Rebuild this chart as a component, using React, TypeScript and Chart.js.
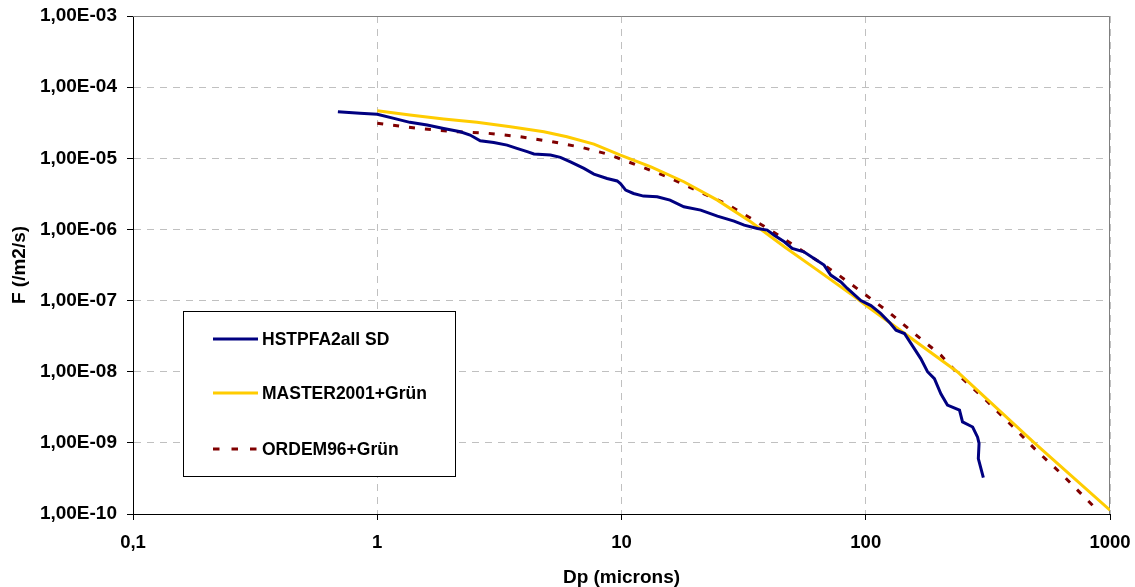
import React, { useEffect, useRef } from "react";
import { Chart, registerables } from "chart.js";

Chart.register(...registerables);

// ---- data ----
const seriesNames = ["HSTPFA2all SD", "MASTER2001+Grün", "ORDEM96+Grün"];
const seriesColors = ["#000080", "#FFCC00", "#800000"];

const hstX = [0.69, 0.85, 1.0, 1.17, 1.36, 1.6, 1.87, 2.19, 2.4, 2.64, 3.0, 3.4, 3.73, 4.11, 4.38, 5.12, 5.62, 6.18, 7.02, 7.71, 8.73, 9.6, 9.9, 10.4, 11.2, 12.3, 14.0, 15.8, 18.0, 21.1, 24.7, 28.9, 31.8, 36.0, 39.5, 42.2, 46.4, 50.0, 55.8, 61.4, 67.5, 71.9, 79.1, 84.1, 95.5, 105, 115, 126, 133, 144, 168, 179, 191, 203, 216, 242, 249, 274, 287, 291, 289, 303];
const hstY = [4.5e-5, 4.28e-5, 4.15e-5, 3.64e-5, 3.2e-5, 2.93e-5, 2.63e-5, 2.36e-5, 2.12e-5, 1.76e-5, 1.67e-5, 1.53e-5, 1.38e-5, 1.24e-5, 1.15e-5, 1.11e-5, 1.03e-5, 8.9e-6, 7.2e-6, 6.0e-6, 5.2e-6, 4.8e-6, 4.4e-6, 3.57e-6, 3.2e-6, 2.94e-6, 2.88e-6, 2.58e-6, 2.08e-6, 1.87e-6, 1.54e-6, 1.31e-6, 1.15e-6, 1.03e-6, 9.8e-7, 8.3e-7, 6.7e-7, 5.4e-7, 4.84e-7, 3.9e-7, 3.15e-7, 2.28e-7, 1.83e-7, 1.48e-7, 1.0e-7, 8.5e-8, 6.6e-8, 4.8e-8, 3.84e-8, 3.44e-8, 1.53e-8, 1.0e-8, 8.0e-9, 4.9e-9, 3.4e-9, 2.88e-9, 1.97e-9, 1.67e-9, 1.2e-9, 9.8e-10, 6.0e-10, 3.24e-10];

const masterX = [1, 1.36, 1.87, 2.56, 3.51, 4.81, 5.98, 7.71, 9.9, 13.2, 18.0, 24.7, 33.8, 46.4, 63.4, 86.9, 101, 237, 490, 1000];
const masterY = [4.66e-5, 4.06e-5, 3.56e-5, 3.2e-5, 2.77e-5, 2.36e-5, 2.01e-5, 1.58e-5, 1.11e-5, 7.6e-6, 4.68e-6, 2.58e-6, 1.28e-6, 5.7e-7, 2.68e-7, 1.24e-7, 8.4e-8, 1.0e-8, 1.0e-9, 1.13e-10];

const ordemX = [1, 1.55, 2.12, 2.86, 3.85, 5.2, 6.9, 8.73, 11.6, 15.4, 20.4, 27.1, 34.9, 44.9, 57.7, 75.3, 100, 126, 158, 203, 249, 316, 399, 498, 631, 900];
const ordemY = [3.1e-5, 2.58e-5, 2.36e-5, 2.24e-5, 2.01e-5, 1.71e-5, 1.42e-5, 1.15e-5, 8.0e-6, 5.5e-6, 3.49e-6, 2.25e-6, 1.35e-6, 7.9e-7, 4.5e-7, 2.45e-7, 1.2e-7, 6.6e-8, 3.44e-8, 1.71e-8, 8.0e-9, 3.76e-9, 1.71e-9, 7.9e-10, 3.7e-10, 1.08e-10];

const xTickValues = [0.1, 1, 10, 100, 1000];
const xTickLabels = ["0,1", "1", "10", "100", "1000"];
const yTickValues = [1e-10, 1e-9, 1e-8, 1e-7, 1e-6, 1e-5, 1e-4, 1e-3];
const yTickLabels = ["1,00E-10", "1,00E-09", "1,00E-08", "1,00E-07", "1,00E-06", "1,00E-05", "1,00E-04", "1,00E-03"];

const xTitle = "Dp (microns)";
const yTitle = "F (/m2/s)";

const FONT = "'Liberation Sans', Arial, sans-serif";

const toPoints = (xs: number[], ys: number[]) => xs.map((x, i) => ({ x, y: ys[i] }));

const framePlugin = {
  id: "frameTopRight",
  beforeDatasetsDraw(chart: any) {
    const { ctx, chartArea } = chart;
    ctx.save();
    ctx.strokeStyle = "#808080";
    ctx.lineWidth = 1;
    ctx.setLineDash([]);
    ctx.beginPath();
    ctx.moveTo(chartArea.left, chartArea.top + 0.5);
    ctx.lineTo(chartArea.right - 0.5, chartArea.top + 0.5);
    ctx.lineTo(chartArea.right - 0.5, chartArea.bottom);
    ctx.stroke();
    ctx.restore();
  },
};

const boxLegendPlugin = {
  id: "boxLegend",
  afterDraw(chart: any) {
    const { ctx } = chart;
    const box = { x: 183.5, y: 311.5, w: 272, h: 165 };
    const rows = [339, 393, 449];
    ctx.save();
    ctx.fillStyle = "#ffffff";
    ctx.fillRect(box.x, box.y, box.w, box.h);
    ctx.strokeStyle = "#000000";
    ctx.lineWidth = 1;
    ctx.setLineDash([]);
    ctx.strokeRect(box.x, box.y, box.w, box.h);
    chart.data.datasets.forEach((ds: any, i: number) => {
      const y = rows[i];
      ctx.strokeStyle = ds.borderColor;
      ctx.lineWidth = 3;
      ctx.setLineDash(i === 2 ? [6.5, 12] : []);
      ctx.beginPath();
      ctx.moveTo(213, y);
      ctx.lineTo(258, y);
      ctx.stroke();
      ctx.setLineDash([]);
      ctx.fillStyle = "#000000";
      ctx.font = `bold 17.5px ${FONT}`;
      ctx.textBaseline = "middle";
      ctx.textAlign = "left";
      ctx.fillText(ds.label, 262, y + 1);
    });
    ctx.restore();
  },
};

export default function App() {
  const canvasRef = useRef<HTMLCanvasElement | null>(null);

  useEffect(() => {
    document.body.style.margin = "0";
    const canvas = canvasRef.current;
    if (!canvas) return;
    Chart.defaults.font.family = FONT;
    Chart.defaults.color = "#000";

    const gridCommon = {
      color: "#c0c0c0",
      lineWidth: 1,
      tickColor: "#000",
      tickLength: 6,
      tickBorderDash: [],
      tickWidth: 1,
    };

    const chart = new Chart(canvas, {
      type: "scatter",
      data: {
        datasets: [
          {
            label: seriesNames[0],
            data: toPoints(hstX, hstY),
            borderColor: seriesColors[0],
            backgroundColor: seriesColors[0],
            borderWidth: 3,
            showLine: true,
            pointRadius: 0,
            tension: 0,
          },
          {
            label: seriesNames[1],
            data: toPoints(masterX, masterY),
            borderColor: seriesColors[1],
            backgroundColor: seriesColors[1],
            borderWidth: 3,
            showLine: true,
            pointRadius: 0,
            tension: 0,
          },
          {
            label: seriesNames[2],
            data: toPoints(ordemX, ordemY),
            borderColor: seriesColors[2],
            backgroundColor: seriesColors[2],
            borderWidth: 3,
            borderDash: [6, 10],
            showLine: true,
            pointRadius: 0,
            tension: 0,
          },
        ],
      },
      options: {
        responsive: false,
        animation: false,
        devicePixelRatio: 1,
        layout: { padding: { top: 16, right: 25, left: 0, bottom: 0 } },
        plugins: {
          legend: { display: false },
          tooltip: { enabled: false },
        },
        scales: {
          x: {
            type: "logarithmic",
            position: "bottom",
            min: 0.1,
            max: 1000,
            afterBuildTicks: (scale: any) => {
              scale.ticks = xTickValues.map((v) => ({ value: v }));
            },
            afterFit: (scale: any) => {
              scale.height = 73;
              scale.paddingLeft = 0;
              scale.paddingRight = 0;
            },
            ticks: {
              autoSkip: false,
              maxRotation: 0,
              padding: 12,
              font: { size: 18.5, weight: "bold" },
              callback: (_v: any, i: number) => xTickLabels[i],
            },
            grid: gridCommon,
            border: { display: true, color: "#000", width: 1, dash: [7, 6] },
            title: {
              display: true,
              text: xTitle,
              font: { size: 19, weight: "bold", lineHeight: 1 },
              padding: { top: 0, bottom: 0 },
            },
          },
          y: {
            type: "logarithmic",
            position: "left",
            min: 1e-10,
            max: 1e-3,
            afterBuildTicks: (scale: any) => {
              scale.ticks = yTickValues.map((v) => ({ value: v }));
            },
            afterFit: (scale: any) => {
              scale.width = 133;
              scale.paddingTop = 0;
              scale.paddingBottom = 0;
            },
            ticks: {
              autoSkip: false,
              padding: 10,
              font: { size: 19, weight: "bold" },
              callback: (_v: any, i: number) => yTickLabels[i],
            },
            grid: gridCommon,
            border: { display: true, color: "#000", width: 1, dash: [7, 6] },
            title: {
              display: true,
              text: yTitle,
              font: { size: 19, weight: "bold", lineHeight: 1 },
              padding: { top: 10.5, bottom: 0 },
            },
          },
        },
      } as any,
      plugins: [framePlugin, boxLegendPlugin],
    });

    return () => chart.destroy();
  }, []);

  return (
    <div style={{ width: 1135, height: 587, background: "#fff" }}>
      <canvas ref={canvasRef} width={1135} height={587} style={{ display: "block" }} />
    </div>
  );
}
